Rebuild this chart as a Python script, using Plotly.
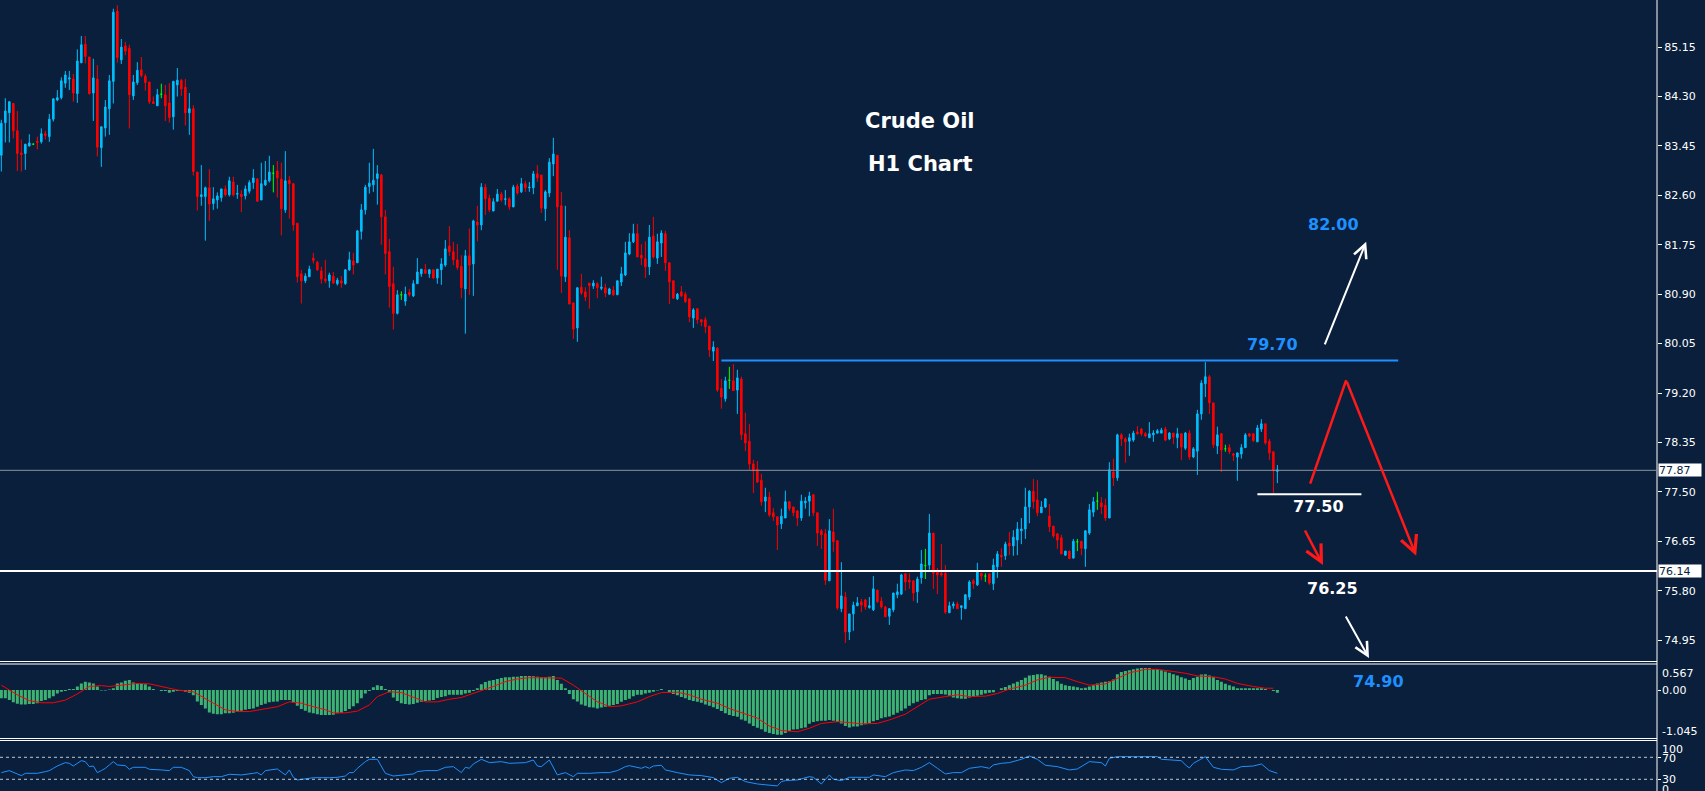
import plotly.graph_objects as go

# ---------------- data ----------------
opens = [83.29,83.85,84.02,84.18,83.71,83.33,83.32,83.45,83.48,83.53,83.52,83.66,83.61,83.91,84.24,84.28,84.53,84.60,84.60,84.35,
84.88,85.20,84.98,84.36,84.60,83.42,83.76,84.09,84.56,85.77,84.93,85.17,85.13,84.31,84.54,84.76,84.65,84.55,84.21,84.14,
84.34,84.33,84.19,83.95,84.50,84.58,84.46,84.02,84.09,83.00,82.58,82.58,82.73,82.46,82.52,82.56,82.71,82.61,82.83,82.62,
82.62,82.59,82.67,82.82,82.88,82.52,82.78,82.85,82.98,83.02,82.88,82.35,82.86,82.80,82.12,81.25,81.13,81.20,81.52,81.45,
81.30,81.16,81.13,81.21,81.08,81.13,81.08,81.32,81.47,81.44,81.98,82.35,82.75,82.78,82.89,82.95,82.23,81.63,81.08,80.57,
80.89,80.78,80.93,80.87,81.08,81.25,81.32,81.25,81.32,81.18,81.32,81.40,81.73,81.63,81.49,81.38,80.99,81.56,81.42,82.14,
82.09,82.74,82.55,82.33,82.50,82.62,82.53,82.54,82.40,82.76,82.66,82.80,82.73,82.73,82.97,82.95,82.37,82.64,83.14,83.29,
82.42,81.20,81.87,80.75,80.32,81.02,80.94,81.09,81.04,81.08,81.00,81.01,80.90,80.97,80.89,81.11,81.23,81.59,81.80,81.94,
81.57,81.51,81.37,81.90,81.52,81.78,81.94,81.44,81.13,80.82,80.94,80.90,80.82,80.49,80.65,80.46,80.46,80.35,79.92,79.97,
79.28,79.10,79.42,79.41,79.25,79.44,78.50,78.37,77.98,77.89,77.70,77.34,77.41,77.14,77.07,76.95,77.05,77.33,77.24,77.17,
77.05,77.31,77.34,77.45,77.14,76.83,76.78,75.97,76.81,76.66,75.49,75.69,75.09,75.40,75.54,75.61,75.64,75.51,75.47,75.81,
75.62,75.52,75.36,75.47,75.73,75.74,76.09,75.98,75.97,75.78,76.02,76.23,76.24,76.79,76.12,76.10,76.10,75.42,75.54,75.57,
75.51,75.49,75.69,75.97,75.90,76.10,76.05,76.09,75.92,76.21,76.41,76.40,76.62,76.57,76.67,76.83,76.86,77.24,77.51,77.36,
77.14,77.24,77.08,76.91,76.78,76.71,76.41,76.48,76.36,76.64,76.65,76.52,76.79,77.15,77.34,77.31,77.27,77.05,77.84,77.74,
78.48,78.41,78.37,78.39,78.53,78.58,78.50,78.43,78.48,78.51,78.51,78.58,78.41,78.51,78.43,78.50,78.25,78.51,78.10,78.20,
78.84,79.36,79.48,79.03,78.29,78.50,78.24,78.26,78.15,78.10,78.15,78.26,78.50,78.50,78.36,78.58,78.67,78.37,78.19,77.85]
highs = [83.90,84.27,84.22,84.19,84.05,83.56,83.48,83.65,83.49,83.61,83.75,83.71,84.00,84.27,84.41,84.63,84.74,84.74,84.69,85.11,
85.34,85.34,84.98,84.95,84.84,83.78,84.24,84.67,85.81,85.87,85.29,85.24,85.19,84.67,84.89,84.98,84.69,84.55,84.30,84.43,
84.52,84.50,84.53,84.57,84.79,84.60,84.60,84.36,84.15,83.00,83.12,82.75,83.05,82.74,82.65,82.71,82.77,82.92,82.92,82.78,
82.69,82.77,82.86,83.05,82.90,83.16,83.19,83.28,83.12,83.19,83.16,83.36,82.93,82.81,82.12,81.32,81.26,81.39,81.61,81.47,
81.37,81.49,81.27,81.28,81.18,81.21,81.32,81.63,81.61,82.00,82.45,82.78,83.16,83.40,83.12,82.97,82.35,81.85,81.37,80.97,
80.95,81.03,80.99,81.14,81.52,81.33,81.42,81.33,81.32,81.33,81.52,81.83,82.07,81.80,81.76,81.57,81.66,82.03,82.18,82.42,
82.81,82.80,82.61,82.55,82.71,82.66,82.69,82.57,82.78,82.80,82.90,82.85,82.83,83.02,83.12,82.95,82.69,83.24,83.59,83.29,
82.66,82.42,82.00,80.75,81.02,81.25,81.02,81.09,81.14,81.11,81.20,81.08,81.01,81.04,81.13,81.37,81.80,81.95,82.11,82.11,
81.76,81.81,82.09,82.23,81.94,82.00,81.99,81.45,81.14,80.92,81.04,80.94,80.82,80.66,80.65,80.47,80.51,80.35,80.09,79.99,
79.44,79.48,79.65,79.70,79.60,79.48,78.86,78.67,78.05,78.03,77.81,77.57,77.50,77.22,77.08,77.21,77.52,77.33,77.24,77.19,
77.45,77.41,77.50,77.46,77.14,76.86,76.86,77.03,77.21,76.67,76.29,75.78,75.40,75.61,75.69,75.66,75.66,75.69,76.05,75.81,
75.69,75.54,75.50,75.76,75.92,76.09,76.10,76.10,75.97,76.04,76.50,76.52,77.12,76.79,76.19,76.60,76.24,75.61,75.61,75.61,
75.54,75.74,75.98,76.00,76.28,76.10,76.10,76.09,76.35,76.48,76.53,76.64,76.81,76.84,76.98,77.05,77.57,77.53,77.72,77.70,
77.34,77.39,77.29,76.91,76.78,76.76,76.48,76.48,76.69,76.69,76.65,76.84,77.29,77.41,77.50,77.41,77.38,78.01,78.07,78.50,
78.51,78.44,78.50,78.55,78.63,78.60,78.53,78.70,78.56,78.58,78.60,78.62,78.53,78.51,78.60,78.50,78.53,78.56,78.27,78.91,
79.42,79.73,79.51,79.03,78.62,78.51,78.31,78.32,78.17,78.17,78.32,78.51,78.51,78.50,78.65,78.75,78.67,78.41,78.19,77.96]
lows = [83.01,83.51,83.51,83.58,83.02,83.01,83.04,83.44,83.47,83.39,83.49,83.56,83.52,83.87,84.22,84.25,84.45,84.41,84.21,84.19,
84.88,84.87,84.33,83.88,83.27,83.09,83.61,83.64,84.18,84.88,84.86,85.01,83.75,84.24,84.50,84.63,84.40,84.17,84.17,84.14,
84.27,83.88,83.85,83.73,84.30,84.31,83.80,83.64,82.94,82.34,82.42,81.82,82.16,82.35,82.37,82.49,82.58,82.58,82.58,82.54,
82.31,82.53,82.63,82.71,82.49,82.52,82.76,82.82,82.65,82.56,81.91,82.30,82.20,81.99,81.10,80.74,81.09,81.20,81.43,81.30,
81.08,81.09,81.01,81.08,81.05,81.01,81.06,81.30,81.24,81.44,81.84,82.27,82.63,82.66,82.44,81.75,81.24,80.67,80.29,80.55,
80.80,80.70,80.86,80.85,81.08,81.20,81.25,81.18,81.16,81.08,81.06,81.37,81.56,81.40,81.32,80.83,80.22,80.89,80.87,81.81,
82.00,82.26,82.31,82.33,82.49,82.49,82.43,82.35,82.40,82.61,82.64,82.66,82.66,82.62,82.83,82.30,82.16,82.57,82.93,81.32,
80.92,81.11,80.73,80.13,80.08,80.89,80.78,80.65,80.99,80.83,80.97,80.85,80.89,80.87,80.89,81.04,81.21,81.57,81.78,81.54,
81.40,81.18,81.23,81.51,81.42,81.54,81.30,80.73,80.82,80.80,80.85,80.75,80.42,80.32,80.39,80.35,80.23,79.82,79.75,79.22,
78.93,79.05,79.27,79.24,78.84,78.39,78.20,77.88,77.48,77.65,77.26,77.15,77.07,77.00,76.50,76.86,77.05,77.17,77.08,76.91,
77.00,77.21,77.08,77.08,76.57,76.52,75.90,75.97,76.47,75.47,75.43,74.90,74.95,75.11,75.54,75.43,75.47,75.49,75.45,75.59,
75.49,75.35,75.21,75.43,75.67,75.73,75.80,75.83,75.62,75.59,75.92,76.00,76.16,75.83,75.74,76.04,75.40,75.42,75.49,75.49,
75.30,75.49,75.64,75.83,75.88,75.98,75.95,75.90,75.81,76.02,76.21,76.33,76.41,76.40,76.41,76.60,76.69,76.96,77.21,77.08,
77.14,77.22,76.81,76.71,76.52,76.43,76.40,76.35,76.35,76.48,76.41,76.21,76.76,77.07,77.19,77.12,77.00,77.05,77.60,77.69,
78.29,78.00,78.12,78.36,78.48,78.46,78.44,78.43,78.36,78.50,78.51,78.37,78.39,78.32,78.25,78.05,78.22,78.05,78.08,77.79,
78.74,79.13,78.84,78.25,78.15,77.84,78.19,78.15,78.03,77.69,78.07,78.26,78.44,78.36,78.36,78.53,78.31,78.05,77.48,77.65]
closes = [83.84,84.05,84.21,83.71,83.32,83.30,83.48,83.50,83.48,83.51,83.66,83.63,83.91,84.26,84.28,84.57,84.67,84.62,84.36,84.91,
85.19,84.99,84.35,84.62,83.43,83.78,84.12,84.57,85.75,84.97,85.15,85.08,84.33,84.55,84.75,84.66,84.54,84.21,84.18,84.33,
84.34,84.14,83.94,84.56,84.58,84.43,84.02,84.09,83.01,82.58,82.61,82.73,82.45,82.54,82.59,82.71,82.61,82.85,82.61,82.63,
82.58,82.71,82.82,82.90,82.50,82.80,82.86,83.00,82.98,82.90,82.37,82.85,82.80,82.09,81.20,81.13,81.21,81.33,81.48,81.32,
81.16,81.13,81.23,81.09,81.14,81.09,81.32,81.49,81.40,81.99,82.35,82.74,82.81,82.86,82.97,82.23,81.60,81.03,80.57,80.89,
80.89,80.90,80.89,81.08,81.28,81.33,81.26,81.32,81.18,81.33,81.42,81.68,81.63,81.49,81.36,81.01,81.56,81.40,82.16,82.09,
82.74,82.54,82.35,82.49,82.62,82.52,82.54,82.40,82.74,82.64,82.80,82.73,82.74,82.97,82.90,82.38,82.66,83.17,83.31,82.40,
81.21,81.88,80.73,80.30,81.01,80.92,80.85,81.05,81.09,81.01,81.02,80.92,80.99,80.89,81.13,81.25,81.61,81.80,81.94,81.54,
81.52,81.37,81.88,81.54,81.80,81.95,81.44,81.11,80.83,80.90,80.87,80.77,80.51,80.63,80.46,80.42,80.34,79.94,79.99,79.25,
79.13,79.41,79.42,79.24,79.46,78.48,78.34,77.98,77.86,77.67,77.33,77.41,77.10,77.07,76.93,77.08,77.33,77.21,77.14,77.05,
77.34,77.34,77.43,77.14,76.79,76.76,75.98,76.83,76.64,75.50,75.71,75.09,75.40,75.55,75.59,75.55,75.52,75.54,75.83,75.61,
75.52,75.35,75.49,75.76,75.78,76.07,75.95,75.95,75.76,76.00,76.26,76.23,76.79,76.10,76.07,76.07,75.43,75.54,75.57,75.49,
75.54,75.73,75.95,75.92,76.12,76.05,76.05,75.93,76.24,76.43,76.38,76.60,76.57,76.72,76.86,76.86,77.24,77.51,77.33,77.14,
77.24,77.38,76.90,76.74,76.67,76.43,76.48,76.35,76.65,76.64,76.53,76.83,77.19,77.33,77.34,77.24,77.05,77.88,77.74,78.48,
78.41,78.36,78.43,78.51,78.50,78.50,78.46,78.50,78.51,78.55,78.56,78.39,78.51,78.44,78.50,78.27,78.51,78.10,78.24,78.84,
79.37,79.48,79.03,78.31,78.48,78.22,78.24,78.19,78.13,78.17,78.26,78.48,78.46,78.38,78.60,78.67,78.34,78.17,77.86,77.88]

macd_hist = [-0.19,-0.19,-0.23,-0.28,-0.31,-0.33,-0.33,-0.32,-0.32,-0.30,
-0.25,-0.23,-0.19,-0.14,-0.08,-0.04,-0.02,0.02,0.02,0.08,
0.15,0.19,0.17,0.15,0.08,-0.01,-0.01,0.01,0.04,0.15,
0.17,0.21,0.23,0.17,0.15,0.14,0.13,0.08,0.02,0.00,
-0.02,-0.02,-0.06,-0.04,-0.02,-0.02,-0.04,-0.06,-0.12,-0.26,
-0.34,-0.42,-0.51,-0.54,-0.55,-0.55,-0.53,-0.53,-0.52,-0.49,
-0.47,-0.45,-0.43,-0.42,-0.38,-0.34,-0.31,-0.28,-0.27,-0.26,
-0.23,-0.23,-0.23,-0.28,-0.36,-0.43,-0.47,-0.51,-0.53,-0.55,
-0.57,-0.57,-0.57,-0.56,-0.53,-0.52,-0.48,-0.43,-0.37,-0.30,
-0.19,-0.08,-0.02,0.06,0.11,0.09,0.02,-0.05,-0.17,-0.25,
-0.30,-0.32,-0.33,-0.32,-0.29,-0.27,-0.25,-0.24,-0.23,-0.18,
-0.16,-0.14,-0.11,-0.11,-0.11,-0.11,-0.08,-0.06,-0.02,0.04,
0.13,0.18,0.21,0.23,0.25,0.27,0.29,0.29,0.30,0.30,
0.32,0.32,0.32,0.31,0.30,0.29,0.29,0.30,0.32,0.23,
0.14,0.04,-0.09,-0.21,-0.26,-0.33,-0.36,-0.39,-0.40,-0.42,
-0.40,-0.38,-0.36,-0.34,-0.32,-0.27,-0.23,-0.20,-0.14,-0.11,
-0.11,-0.08,-0.06,-0.04,-0.01,0.02,0.00,-0.05,-0.09,-0.12,
-0.16,-0.19,-0.23,-0.25,-0.27,-0.29,-0.33,-0.36,-0.39,-0.43,
-0.48,-0.53,-0.57,-0.59,-0.61,-0.67,-0.70,-0.76,-0.82,-0.86,
-0.89,-0.95,-0.98,-1.00,-1.02,-1.02,-0.98,-0.93,-0.90,-0.89,
-0.87,-0.85,-0.77,-0.73,-0.71,-0.70,-0.70,-0.68,-0.70,-0.73,
-0.76,-0.82,-0.85,-0.83,-0.83,-0.80,-0.78,-0.75,-0.71,-0.68,
-0.64,-0.62,-0.60,-0.56,-0.52,-0.47,-0.42,-0.36,-0.30,-0.27,
-0.23,-0.21,-0.12,-0.09,-0.09,-0.09,-0.10,-0.13,-0.17,-0.19,
-0.20,-0.20,-0.17,-0.16,-0.13,-0.11,-0.08,-0.06,-0.05,0.00,
0.04,0.07,0.11,0.15,0.19,0.23,0.28,0.33,0.34,0.36,
0.36,0.33,0.30,0.25,0.20,0.14,0.11,0.09,0.08,0.06,
0.04,0.05,0.08,0.11,0.15,0.17,0.19,0.20,0.24,0.36,
0.41,0.43,0.45,0.47,0.49,0.50,0.50,0.50,0.48,0.47,
0.45,0.42,0.39,0.36,0.33,0.29,0.26,0.23,0.27,0.30,
0.35,0.36,0.33,0.29,0.23,0.19,0.14,0.11,0.08,0.04,
0.04,0.04,0.04,0.04,0.04,0.04,0.02,0.00,-0.02,-0.06]

signal_idx = [0,4,7,10,13,16,19,22,25,27,30,34,37,40,44,48,50,53,56,59,62,65,69,72,75,78,81,83,86,89,92,94,97,100,103,106,109,112,115,117,
120,123,126,129,132,135,138,140,143,146,149,150,152,155,159,162,165,169,172,175,179,182,185,189,192,195,199,202,205,209,212,215,219,222,
226,229,232,236,239,242,246,249,252,256,259,262,266,269,272,276,279,282,286,289,293,296,299,303,306,309,313,316,318]
signal_val = [0.11,-0.11,-0.24,-0.29,-0.29,-0.23,-0.09,0.08,0.10,0.08,0.11,0.15,0.14,0.08,0.00,-0.04,-0.15,-0.30,-0.45,-0.49,-0.49,-0.45,-0.38,-0.27,-0.30,
-0.38,-0.45,-0.52,-0.52,-0.48,-0.34,-0.15,-0.04,-0.06,-0.17,-0.27,-0.27,-0.21,-0.17,-0.11,-0.02,0.08,0.19,0.25,0.28,0.28,0.28,0.27,0.11,-0.08,
-0.27,-0.30,-0.38,-0.36,-0.27,-0.15,-0.06,-0.05,-0.11,-0.21,-0.30,-0.42,-0.52,-0.64,-0.82,-0.92,-0.95,-0.87,-0.76,-0.72,-0.74,-0.77,-0.76,-0.68,
-0.55,-0.38,-0.21,-0.15,-0.11,-0.15,-0.14,-0.08,0.02,0.11,0.23,0.29,0.28,0.19,0.11,0.14,0.27,0.39,0.47,0.47,0.42,0.38,0.32,0.30,0.25,0.15,0.08,0.04,0.04]

rsi_idx = [0,2,4,5,6,9,11,12,13,14,16,17,18,19,20,21,22,23,24,25,26,27,28,29,31,32,33,36,37,40,42,43,45,47,48,49,51,53,55,57,60,63,64,65,66,
69,70,71,72,73,74,76,78,82,84,86,87,88,89,91,92,94,95,96,98,100,103,104,106,109,111,113,114,115,116,117,118,120,122,123,125,127,129,131,133,
134,135,137,139,141,143,144,147,149,150,152,154,156,157,160,161,162,163,165,166,169,172,175,178,180,182,184,186,189,191,194,195,196,199,202,
203,205,207,208,210,211,212,217,218,221,223,226,228,230,232,234,236,238,240,242,245,247,248,250,252,255,257,259,261,264,266,267,269,270,272,
275,276,277,279,284,289,290,293,295,296,297,298,301,303,305,308,310,313,315,317,319]
rsi_val = [42.1,45.8,39.7,36.7,40.9,40.9,43.9,45.8,50.0,54.2,60.3,59.1,54.2,59.1,63.9,62.1,53.0,54.2,42.1,45.8,50.0,56.1,62.1,56.1,54.8,48.2,51.8,51.8,48.2,47.0,45.8,51.8,51.8,45.8,34.8,33.0,33.0,34.8,34.8,39.1,37.9,40.9,42.1,37.9,45.8,
48.8,42.7,37.9,47.0,33.6,28.7,30.5,32.9,32.9,33.6,36.0,42.1,42.1,50.0,62.1,66.4,66.4,53.0,40.9,36.0,37.9,39.7,43.9,45.8,45.8,51.8,53.0,47.0,42.1,51.8,50.0,57.9,66.4,60.3,60.9,62.1,59.1,59.1,60.3,65.1,
54.2,53.0,65.1,37.9,42.1,34.8,40.9,40.9,42.1,42.1,42.1,45.8,53.0,54.8,50.0,53.0,50.0,54.2,55.5,47.0,42.1,37.9,36.7,33.0,23.9,31.8,33.6,25.8,21.5,19.7,17.9,25.8,27.6,28.8,34.8,
33.6,21.5,37.9,30.0,27.6,30.0,33.6,33.6,37.9,34.8,42.1,47.0,45.8,51.8,60.3,50.0,39.7,42.1,42.1,50.0,53.0,50.0,56.1,59.1,60.3,66.4,72.4,66.4,55.5,53.0,48.2,47.0,48.8,53.0,62.1,
60.3,54.2,68.2,71.2,71.2,71.2,66.4,65.1,63.9,56.1,50.6,59.1,71.2,51.8,48.2,47.0,53.0,54.2,57.9,45.8,40.9]

price_ticks = [74.95, 75.80, 76.65, 77.50, 78.35, 79.20, 80.05, 80.90, 81.75, 82.60, 83.45, 84.30, 85.15]

# ---------------- styling ----------------
BG = '#0a1f3c'
BULL = '#00bfff'
BEAR = '#ff0000'
DOJI = '#00ff00'
BLUE = '#1e90ff'
FONT = 'DejaVu Sans'
XR = [-0.333, 413.9]

idx = list(range(len(opens)))
body_i = [i for i in idx if opens[i] != closes[i]]
doji_i = [i for i in idx if opens[i] == closes[i]]

fig = go.Figure()
fig.add_trace(go.Candlestick(
    x=body_i, open=[opens[i] for i in body_i], high=[highs[i] for i in body_i],
    low=[lows[i] for i in body_i], close=[closes[i] for i in body_i],
    increasing=dict(line=dict(color=BULL, width=1), fillcolor=BULL),
    decreasing=dict(line=dict(color=BEAR, width=1), fillcolor=BEAR),
    xaxis='x', yaxis='y', hoverinfo='skip', showlegend=False))
fig.add_trace(go.Candlestick(
    x=doji_i, open=[opens[i] for i in doji_i], high=[highs[i] for i in doji_i],
    low=[lows[i] for i in doji_i], close=[closes[i] for i in doji_i],
    increasing=dict(line=dict(color=DOJI, width=1), fillcolor=DOJI),
    decreasing=dict(line=dict(color=DOJI, width=1), fillcolor=DOJI),
    xaxis='x', yaxis='y', hoverinfo='skip', showlegend=False))

fig.add_trace(go.Bar(x=idx, y=macd_hist, width=0.75, marker=dict(color='#3cb371', line=dict(width=0)),
                     xaxis='x2', yaxis='y2', hoverinfo='skip', showlegend=False))
fig.add_trace(go.Scatter(x=signal_idx, y=signal_val, mode='lines', line=dict(color='#ff0000', width=1),
                         xaxis='x2', yaxis='y2', hoverinfo='skip', showlegend=False))
fig.add_trace(go.Scatter(x=rsi_idx, y=rsi_val, mode='lines', line=dict(color=BLUE, width=1),
                         xaxis='x3', yaxis='y3', hoverinfo='skip', showlegend=False))

H = 791.0
def py(px):
    return 1 - px / H

tickfont = dict(family=FONT, size=11, color='white')
common_x = dict(range=XR, visible=False, showgrid=False, zeroline=False, fixedrange=True, automargin=False)

fig.update_layout(
    width=1705, height=791, margin=dict(l=0, r=48, t=0, b=0, pad=0), autosize=False,
    paper_bgcolor=BG, plot_bgcolor=BG, showlegend=False, hovermode=False,
    boxgap=0.45, boxmode='overlay',
    xaxis=dict(domain=[0, 1], anchor='y', rangeslider=dict(visible=False), **common_x),
    xaxis2=dict(domain=[0, 1], anchor='y2', **common_x),
    xaxis3=dict(domain=[0, 1], anchor='y3', **common_x),
    yaxis=dict(domain=[py(661), 1], range=[74.59, 85.96], side='right', anchor='x',
               tickvals=price_ticks, ticktext=[f'{v:.2f}' for v in price_ticks],
               ticks='outside', ticklen=4, tickcolor='white', tickfont=tickfont,
               showgrid=False, zeroline=False, showline=False, automargin=False),
    yaxis2=dict(domain=[py(737.5), py(664)], range=[-1.08, 0.591], side='right', anchor='x2',
                tickvals=[0], ticktext=[''], ticks='outside', ticklen=3, tickcolor='white',
                showgrid=False, zeroline=False, showline=False, automargin=False),
    yaxis3=dict(domain=[0, py(740)], range=[8.7, 101.5], side='right', anchor='x3',
                tickvals=[70, 30], ticktext=['', ''], ticks='outside', ticklen=3, tickcolor='white',
                showgrid=False, zeroline=False, showline=False, automargin=False),
)

shapes = []
# right axis line
shapes.append(dict(type='line', xref='paper', yref='paper', x0=1, x1=1, y0=0, y1=1,
                   line=dict(color='white', width=1)))
# panel separators
for p in (661.5, 664.0, 738.5, 740.5):
    shapes.append(dict(type='line', xref='paper', yref='paper', x0=0, x1=1, y0=py(p), y1=py(p),
                       line=dict(color='white', width=1)))
# horizontal levels
shapes.append(dict(type='line', xref='x', yref='y', x0=180, x1=349.2, y0=79.76, y1=79.76,
                   line=dict(color=BLUE, width=2)))
shapes.append(dict(type='line', xref='paper', yref='y', x0=0, x1=1, y0=77.87, y1=77.87,
                   line=dict(color='#8a949e', width=1)))
shapes.append(dict(type='line', xref='paper', yref='y', x0=0, x1=1, y0=76.14, y1=76.14,
                   line=dict(color='white', width=2)))
shapes.append(dict(type='line', xref='x', yref='y', x0=314, x1=340, y0=77.46, y1=77.46,
                   line=dict(color='white', width=2)))
# red up-leg of the scenario path
shapes.append(dict(type='line', xref='x', yref='y', x0=327.2, y0=77.64, x1=336.2, y1=79.42,
                   line=dict(color='#ff1a1a', width=2.5)))
# RSI levels
for lv in (70, 30):
    shapes.append(dict(type='line', xref='paper', yref='y3', x0=0, x1=1, y0=lv, y1=lv,
                       line=dict(color='#c0c8d0', width=1, dash='3px,3px')))
fig.update_layout(shapes=shapes)

ann = []
def arrow(x, y, ax, ay, color, w):
    ann.append(dict(x=x, y=y, ax=ax, ay=ay, xref='x', yref='y', axref='x', ayref='y',
                    showarrow=True, arrowhead=5, arrowsize=1.3, arrowwidth=w, arrowcolor=color,
                    standoff=0, startstandoff=0, text=''))
arrow(353.7, 76.40, 336.2, 79.42, '#ff1a1a', 2.5)
arrow(330.4, 76.24, 325.7, 76.86, '#ff1a1a', 2.5)
arrow(341.2, 81.80, 330.7, 80.01, 'white', 2)
arrow(341.9, 74.64, 335.9, 75.38, 'white', 2)

def label(text, x, y, color, yref='y', size=16):
    ann.append(dict(x=x, y=y, xref='x', yref=yref, text=f'<b>{text}</b>', showarrow=False,
                    font=dict(family=FONT, size=size, color=color), xanchor='center', yanchor='middle'))
label('82.00', 333.0, 82.09, BLUE)
label('79.70', 317.9, 80.03, BLUE)
label('77.50', 329.4, 77.24, 'white')
label('76.25', 332.7, 75.83, 'white')
label('74.90', 344.4, 0.20, BLUE, yref='y2')

# titles
for txt, ypx in (('Crude Oil', 121), ('H1 Chart', 164)):
    ann.append(dict(x=920 / 1657, y=py(ypx), xref='paper', yref='paper', text=f'<b>{txt}</b>',
                    showarrow=False, font=dict(family=FONT, size=21, color='white'),
                    xanchor='center', yanchor='middle'))

# price boxes on the axis
for v in (77.87, 76.14):
    ann.append(dict(x=1, y=v, xref='paper', yref='y', xanchor='left', yanchor='middle', xshift=1,
                    text=f'{v:.2f}', showarrow=False, bgcolor='white', borderpad=0,
                    width=42, height=12, align='left',
                    font=dict(family=FONT, size=11, color='#0a1f3c')))

# side labels for top cut-off tick and indicator panels
def side(text, ypx):
    ann.append(dict(x=1, y=py(ypx), xref='paper', yref='paper', xanchor='left', yanchor='middle',
                    xshift=3, text=text, showarrow=False, font=tickfont))
ann.append(dict(x=1, y=py(-3), xref='paper', yref='paper', xanchor='left', yanchor='middle',
                xshift=6, text='86.00', showarrow=False, font=tickfont))
side('0.567', 673)
side('0.00', 690)
side('-1.045', 731)
side('100', 749)
side('70', 758)
side('30', 779)
side('0', 789)
fig.update_layout(annotations=ann)

fig.write_html('out.html', config={'displayModeBar': False, 'staticPlot': True},
               post_script="document.body.style.margin='0';document.body.style.padding='0';"
                           "document.body.style.overflow='hidden';"
                           "document.body.style.background='" + BG + "';")
